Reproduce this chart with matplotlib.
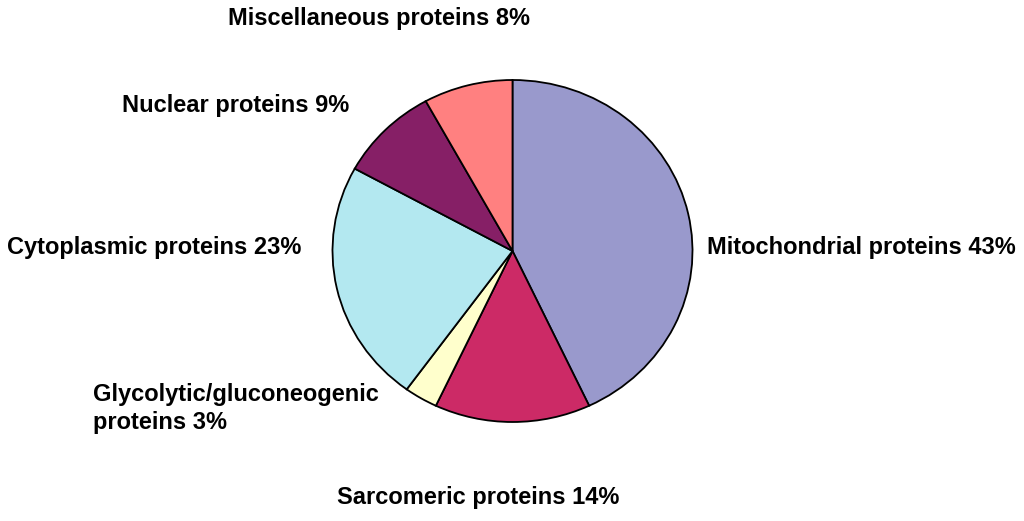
import matplotlib
matplotlib.use("Agg")
import matplotlib.pyplot as plt

# slice data, clockwise from 12 o'clock
categories = ["Mitochondrial proteins", "Sarcomeric proteins", "Glycolytic/gluconeogenic proteins",
              "Cytoplasmic proteins", "Nuclear proteins", "Miscellaneous proteins"]
shares = [43, 14, 3, 23, 9, 8]
colors = ["#9999CC", "#CC2A66", "#FFFFCC", "#B3E8F0", "#861F66", "#FF8080"]

plt.rcParams['font.family'] = ['Liberation Sans', 'DejaVu Sans']

fig = plt.figure(figsize=(10.24, 5.21), dpi=100)
# pie is slightly squashed in the original: 180 px wide radius, 171 px tall, centre (512.5, 251)
cx, cy, rx, ry = 512.5, 251, 180, 171
ax = fig.add_axes([(cx - rx) / 1024, (521 - cy - ry) / 521, 2 * rx / 1024, 2 * ry / 521])
ax.pie(shares, colors=colors, startangle=90, counterclock=False, radius=1,
       wedgeprops=dict(edgecolor="black", linewidth=1.3))
ax.set_xlim(-1, 1)
ax.set_ylim(-1, 1)
ax.set_aspect("auto")
ax.axis("off")

label_text = [
    f"{categories[0]} {shares[0]}%",
    f"{categories[1]} {shares[1]}%",
    f"Glycolytic/gluconeogenic\nproteins {shares[2]}%",
    f"{categories[3]} {shares[3]}%",
    f"{categories[4]} {shares[4]}%",
    f"{categories[5]} {shares[5]}%",
]
label_pos = [(1.08, 0.02, "left"), (-0.19, -1.44, "center"), (-2.33, -0.92, "left"),
             (-1.99, 0.02, "center"), (-1.54, 0.85, "center"), (-0.74, 1.36, "center")]

for txt, (x, y, ha) in zip(label_text, label_pos):
    ax.text(x, y, txt, ha=ha, va="center", fontsize=17, fontweight="bold",
            linespacing=1.25, clip_on=False)

fig.savefig("out.png", dpi=100, facecolor="white")
